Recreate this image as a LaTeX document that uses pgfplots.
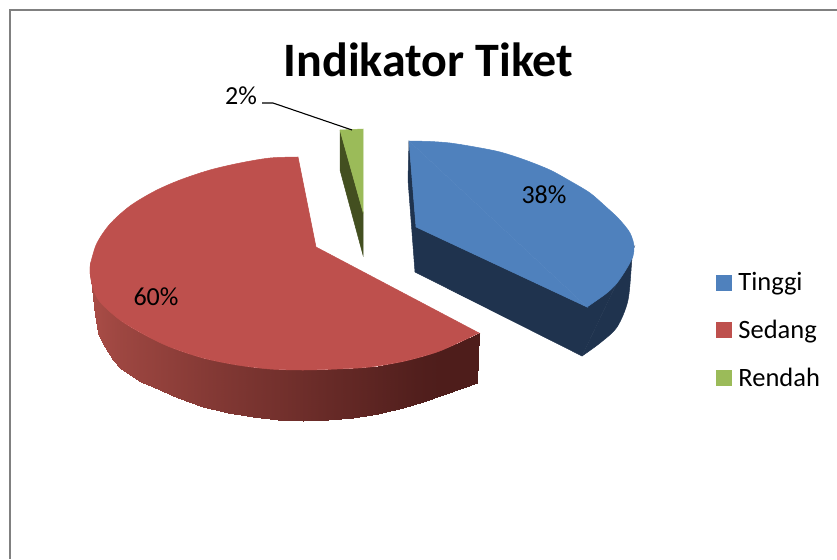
\documentclass[border=0pt]{standalone}
\usepackage{fontspec}
\setmainfont{Carlito}
\usepackage{pgfplots}
\pgfplotsset{compat=1.18}
\definecolor{blueT}{HTML}{4F81BD}
\definecolor{blueS}{HTML}{1F334E}
\definecolor{redT}{HTML}{BE504D}
\definecolor{greenT}{HTML}{9BBB59}
\definecolor{greenS}{HTML}{434F20}
\pgfplotsset{
  sl/.style={fill=#1,draw=#1,line width=0.5pt,forget plot,mark=none},
  lsq/.style={legend image code/.code={\fill[#1] (0cm,-7.5pt) rectangle (15pt,7.5pt);}}
}
\begin{document}
\begin{tikzpicture}
\begin{axis}[
  scale only axis,width=837pt,height=559pt,
  xmin=0,xmax=837,ymin=0,ymax=559,y dir=reverse,
  hide axis,
  colormap={redside}{rgb255(0)=(78,29,27) rgb255(100)=(168,76,70)},
  point meta min=0,point meta max=100,
  legend style={at={(axis cs:716,272.5)},anchor=north west,draw=none,fill=none,
    font=\fontsize{26.5}{27}\selectfont,inner sep=0pt,outer sep=0pt,
    row sep=28pt,nodes={inner sep=0pt,outer sep=0pt}},
  legend cell align=left,
]
% keeps the whole canvas in the picture
\addplot[draw=none,forget plot] coordinates {(0,0)(837,559)};
% frame
\addplot[color=black!50,line width=1.5pt,forget plot] coordinates {(10,559)(10,10)(837,10)};
% red side
\addplot[patch,patch type=rectangle,shader=interp,forget plot,point meta=explicit] table[meta=c] {
x y c
90 270 100
95 293 99
95 315 99
90 270 100
95 293 99
98 300 98
98 333 98
95 315 99
98 300 98
101 303 97
101 340 97
98 333 98
101 303 97
105 307 95
105 347 95
101 340 97
105 307 95
113 314 91
113 360 91
105 347 95
113 314 91
120 320 88
120 368 88
113 360 91
120 320 88
130 327 85
130 375 85
120 368 88
130 327 85
141 333 81
141 381.5 81
130 375 85
141 333 81
153 339 78
153 387 78
141 381.5 81
153 339 78
178 350 70
178 398 70
153 387 78
178 350 70
203 358 62
203 407 62
178 398 70
203 358 62
228 363 55
228 413 55
203 407 62
228 363 55
253 367 48
253 417 48
228 413 55
253 367 48
278 369 42
278 420 42
253 417 48
278 369 42
303 370 35
303 421 35
278 420 42
303 370 35
328 369 28
328 420 28
303 421 35
328 369 28
353 368 22
353 418 22
328 420 28
353 368 22
378 366 15
378 414 15
353 418 22
378 366 15
403 361 8
403 408 8
378 414 15
403 361 8
423 356 3
423 402 3
403 408 8
423 356 3
443 349 0
443 395 0
423 402 3
443 349 0
460 342 0
460 389 0
443 395 0
460 342 0
479 333 0
477 383 0
460 389 0
};
% red top: the straight edges, then the two halves of the rim
\addplot[sl=redT] coordinates {(316,247)(298,157)(91,262)(93,288)(479,333)(316,247)};
\addplot[sl=redT,smooth] coordinates {(298,157)(270,158)(240,163)(210,170)(180,180)(155,191)(130,206)(110,224)(97,243)(91,262)(90,272)(93,288)};
\addplot[sl=redT,smooth] coordinates {(91,262)(90,272)(93,288)(100,302)(120,320)(145,335)(170,347)(203,358)(237,365)(270,369)(303,370)(337,369)(370,367)(405,361)(437,352)(460,342)(479,333)};
% green
\addplot[sl=greenS] coordinates {(340,130)(363,212)(363,255)(340,170)(340,130)};
\addplot[sl=greenT] coordinates {(340,130)(363,129)(363,212)(340,130)};
% blue
\addplot[sl=blueS] coordinates {(409,141)(408,180)(415,272)(582,356)(634,247)(587,307)(416,227)(409,141)};
\addplot[sl=blueS,smooth] coordinates {(634,247)(632,258)(628,300)(617,327)(600,343)(582,356)};
\addplot[sl=blueT] coordinates {(416,227)(409,141)(587,307)(416,227)};
\addplot[sl=blueT,smooth] coordinates {(409,141)(430,141.5)(450,143)(475,147)(500,152)(525,160)(550,170)(570,181)(590,193)(605,206)(617,217)(625,226)(630,233)(633,241)(634,247)(633,256)(627,268)(617,283)(608,292)(600,298)(587,307)};
% leader
\addplot[black,line width=1.1pt,forget plot] coordinates {(262,103)(273,103)(352,130)};
% legend
\addlegendimage{lsq=blueT}\addlegendentry{\hspace{7pt}Tinggi}
\addlegendimage{lsq=redT}\addlegendentry{\hspace{7pt}Sedang}
\addlegendimage{lsq=greenT}\addlegendentry{\hspace{7pt}Rendah}
% texts
\node[font=\fontsize{48}{48}\selectfont\bfseries] at (axis cs:428.5,60) {Indikator Tiket};
\node[font=\fontsize{26}{26}\selectfont] at (axis cs:544,195) {38\%};
\node[font=\fontsize{26}{26}\selectfont] at (axis cs:156,297) {60\%};
\node[font=\fontsize{26}{26}\selectfont] at (axis cs:241,96) {2\%};
\end{axis}
\end{tikzpicture}
\end{document}
